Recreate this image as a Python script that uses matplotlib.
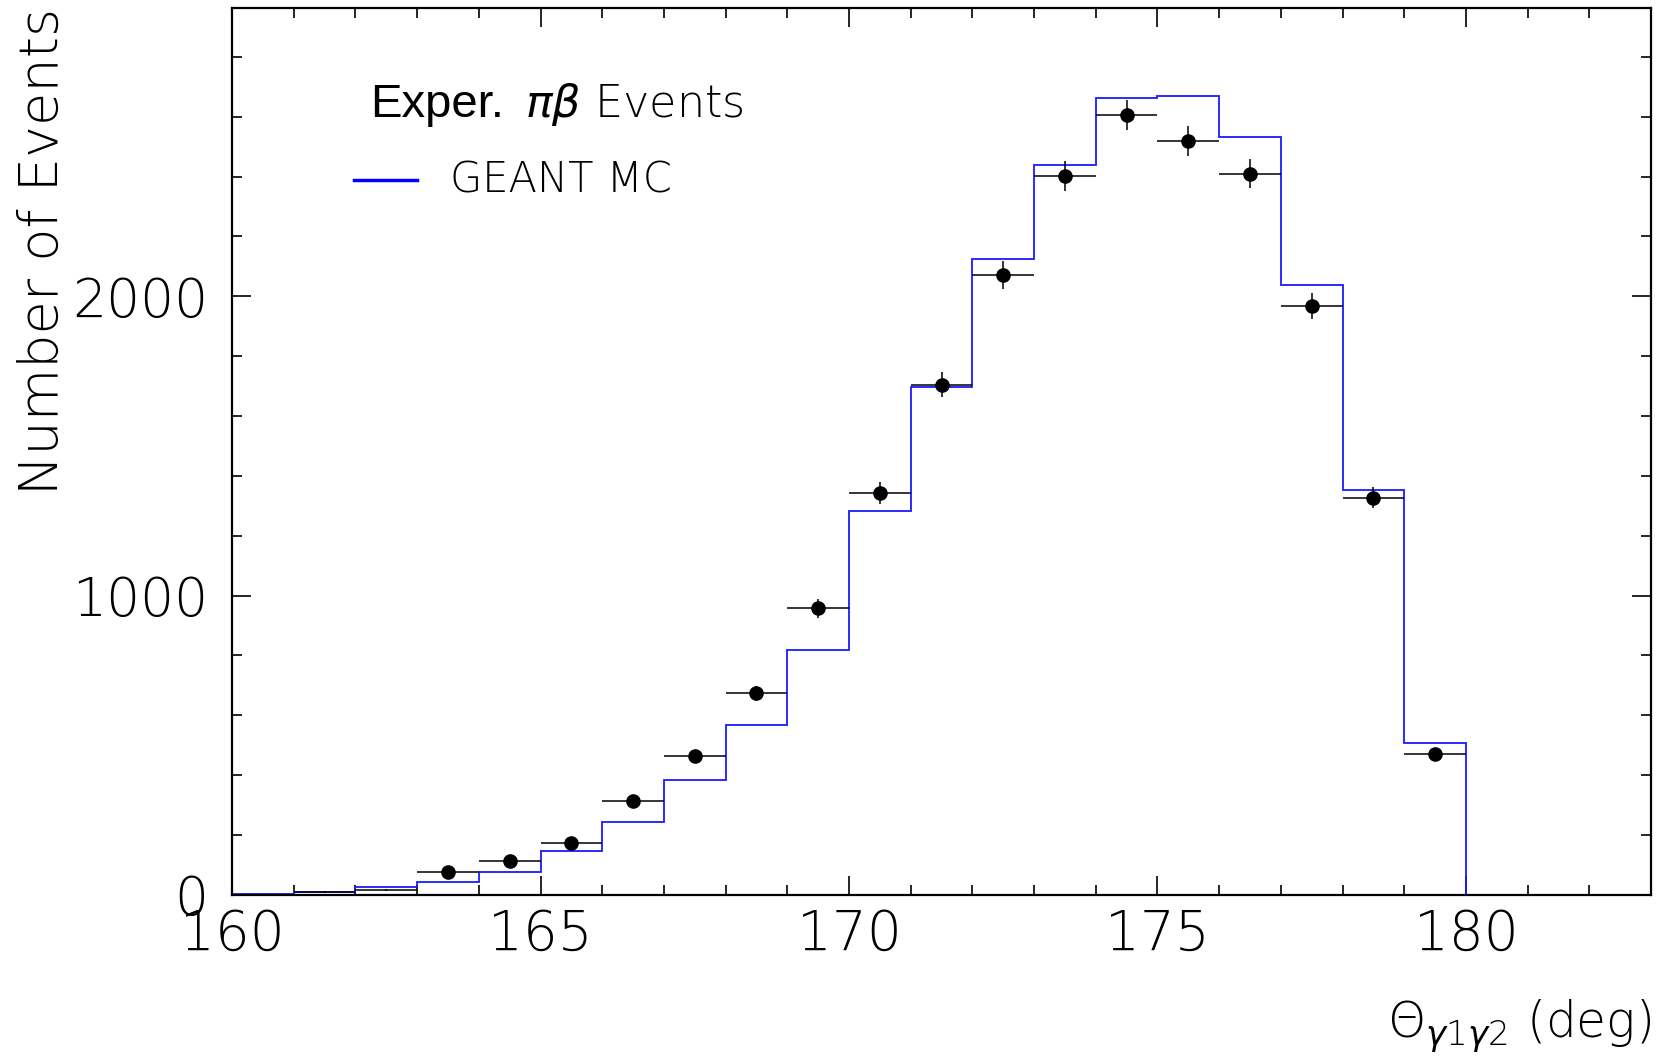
import numpy as np
import matplotlib
matplotlib.use("Agg")
import matplotlib.pyplot as plt
from matplotlib.ticker import MultipleLocator
from matplotlib.lines import Line2D

plt.rcParams["mathtext.fontset"] = "custom"
plt.rcParams["mathtext.it"] = "DejaVu Sans:italic:light"
plt.rcParams["mathtext.rm"] = "DejaVu Sans:light"

# MC histogram: bin edges (1 deg) and contents
mc_edges = [160, 161, 162, 163, 164, 165, 166, 167, 168, 169, 170,
            171, 172, 173, 174, 175, 176, 177, 178, 179, 180, 181]
mc_counts = [4, 10, 25, 43, 78, 146, 242, 384, 566, 818, 1281,
             1698, 2125, 2438, 2663, 2670, 2532, 2036, 1352, 508, 0]

# Experimental points: bin centers, counts, errors
exp_x = [161.5, 162.5, 163.5, 164.5, 165.5, 166.5, 167.5, 168.5, 169.5, 170.5,
         171.5, 172.5, 173.5, 174.5, 175.5, 176.5, 177.5, 178.5, 179.5]
exp_y = [9, 16, 75, 113, 173, 313, 463, 673, 957, 1342,
         1705, 2071, 2402, 2605, 2520, 2410, 1968, 1327, 470]
exp_err = [3, 4, 9, 11, 13, 18, 22, 26, 31, 37,
           41, 46, 49, 51, 50, 49, 44, 36, 22]
exp_xerr = 0.5

fig = plt.figure(figsize=(16.67, 10.58), dpi=100)
ax = fig.add_axes([0.1392, 0.1542, 0.8512, 0.8382])

ax.stairs(mc_counts, mc_edges, color="#1a1aff", lw=1.3, zorder=2)

ax.errorbar(exp_x, exp_y, yerr=exp_err, xerr=exp_xerr, fmt="none",
            ecolor="black", elinewidth=1.1, capsize=0, zorder=3)
ax.plot(exp_x[2:], exp_y[2:], "o", color="black", ms=9.5, zorder=4)

ax.set_xlim(160, 183)
ax.set_ylim(0, 2963)

ax.xaxis.set_major_locator(MultipleLocator(5))
ax.xaxis.set_minor_locator(MultipleLocator(1))
ax.yaxis.set_major_locator(MultipleLocator(1000))
ax.yaxis.set_minor_locator(MultipleLocator(200))
ax.tick_params(which="both", direction="in", top=True, right=True, width=1.2)
ax.tick_params(which="major", length=14)
ax.tick_params(which="minor", length=7)
ax.tick_params(axis="x", which="major", labelsize=39.5, pad=9)
ax.tick_params(axis="y", which="major", labelsize=38.5, pad=17)
for lab in ax.get_xticklabels() + ax.get_yticklabels():
    lab.set_fontweight("light")
for sp in ax.spines.values():
    sp.set_linewidth(1.6)

ax.set_ylabel("Number of Events", fontsize=39, loc="top", fontweight="light", labelpad=2)
ax.set_xlabel(r"$\Theta_{\gamma 1 \gamma 2}$ (deg)", fontsize=35, loc="right",
              fontweight="light", labelpad=26)

# Legend-like annotations
ax.text(0.0973, 0.8775, "Exper.", transform=ax.transAxes, fontsize=34,
        family="Liberation Sans", fontweight="normal", va="baseline", ha="left")
ax.text(0.2065, 0.8775, r"$\pi\beta$ Events", transform=ax.transAxes, fontsize=32,
        fontweight="light", va="baseline", ha="left")
ax.add_line(Line2D([0.0860, 0.1304], [0.8062, 0.8062], transform=ax.transAxes,
                   color="blue", lw=2.5))
ax.text(0.1537, 0.8062, "GEANT MC", transform=ax.transAxes, fontsize=30,
        fontweight="light", va="center", ha="left")

fig.savefig("out.png", dpi=100)
